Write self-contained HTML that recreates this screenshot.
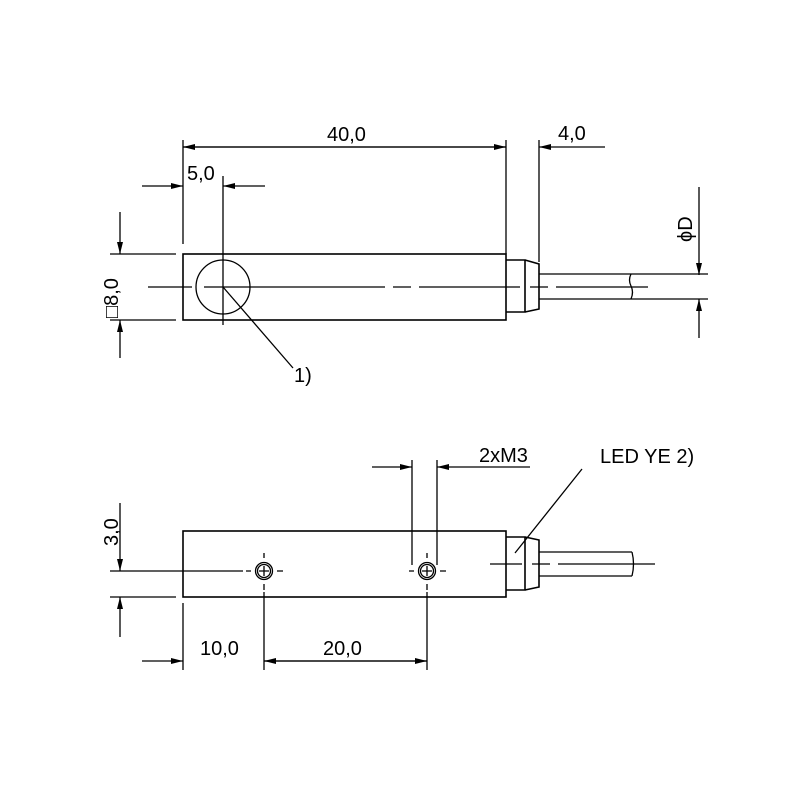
<!DOCTYPE html>
<html><head><meta charset="utf-8"><style>body{margin:0;background:#fff}svg{display:block}</style></head><body>
<svg width="800" height="800" viewBox="0 0 800 800" xmlns="http://www.w3.org/2000/svg" font-family="Liberation Sans, sans-serif" font-size="20" fill="none" stroke="#000" stroke-width="1.3">
<defs>
<marker id="a" viewBox="0 0 12 6" refX="12" refY="3" markerWidth="13" markerHeight="6" markerUnits="userSpaceOnUse" orient="auto"><path d="M0,0L12,3L0,6z" fill="#000" stroke="none"/></marker>
</defs>
<!-- TOP VIEW -->
<rect x="183" y="254" width="323" height="66" stroke-width="1.6"/>
<circle cx="223" cy="287" r="27"/>
<path d="M506,260H525V312H506M525,260L539,264V309L525,312" stroke-width="1.6"/>
<path d="M539,274H708M539,299H708"/>
<path d="M631,274q-3,6 0,12q3,6 0,13"/>
<path d="M148,287H192M204,287H385M393,287H411M419,287H520M530,287H548M556,287H648" />
<path d="M223,176V325"/>
<path d="M223,287L293,368"/>
<text x="294" y="382" fill="#000" stroke="none">1)</text>
<path d="M183,140V244M506,140V254M539,140V262"/>
<path d="M506,147H183" marker-end="url(#a)"/>
<path d="M183,147H506" marker-end="url(#a)"/>
<path d="M605,147H539" marker-end="url(#a)"/>
<text x="327" y="141" fill="#000" stroke="none">40,0</text>
<text x="558" y="140" fill="#000" stroke="none">4,0</text>
<path d="M142,186H183" marker-end="url(#a)"/>
<path d="M265,186H223" marker-end="url(#a)"/>
<text x="187" y="180" fill="#000" stroke="none">5,0</text>
<path d="M110,254H176M110,320H176"/>
<path d="M120,212V254" marker-end="url(#a)"/>
<path d="M120,358V320" marker-end="url(#a)"/>
<text transform="translate(118,318) rotate(-90)" fill="#000" stroke="none">□8,0</text>
<path d="M699,187V275" marker-end="url(#a)"/>
<path d="M699,338V299" marker-end="url(#a)"/>
<text transform="translate(692,242) rotate(-90)" fill="#000" stroke="none">ϕD</text>
<!-- BOTTOM VIEW -->
<rect x="183" y="531" width="323" height="66" stroke-width="1.6"/>
<path d="M506,537H525V590H506M525,537L539,540V587L525,590" stroke-width="1.6"/>
<path d="M539,552H632M539,576H632"/>
<path d="M632,552q3,12 0,24"/>
<path d="M490,564H522M532,564H550M558,564H655"/>
<path d="M515,553L582,469"/>
<text x="600" y="463" fill="#000" stroke="none">LED YE 2)</text>
<g>
<circle cx="264" cy="571" r="8.5"/><circle cx="264" cy="571" r="6.5"/>
<path d="M259,571H269M264,566V576M264,553V558M264,584V590M246,571H251M277,571H283"/>
<circle cx="427" cy="571" r="8.5"/><circle cx="427" cy="571" r="6.5"/>
<path d="M422,571H432M427,566V576M427,553V558M427,584V590M409,571H414M440,571H446"/>
</g>
<path d="M110,571H243M110,597H176"/>
<path d="M412,460V565M437,460V565"/>
<path d="M372,467H412" marker-end="url(#a)"/>
<path d="M530,467H437" marker-end="url(#a)"/>
<text x="479" y="462" fill="#000" stroke="none">2xM3</text>
<path d="M120,503V571" marker-end="url(#a)"/>
<path d="M120,637V597" marker-end="url(#a)"/>
<text transform="translate(118,546) rotate(-90)" fill="#000" stroke="none">3,0</text>
<path d="M183,603V670M264,592V670M427,592V670"/>
<path d="M142,661H183" marker-end="url(#a)"/>
<path d="M427,661H264" marker-end="url(#a)"/>
<path d="M264,661H427" marker-end="url(#a)"/>
<text x="200" y="655" fill="#000" stroke="none">10,0</text>
<text x="323" y="655" fill="#000" stroke="none">20,0</text>
</svg>
</body></html>
